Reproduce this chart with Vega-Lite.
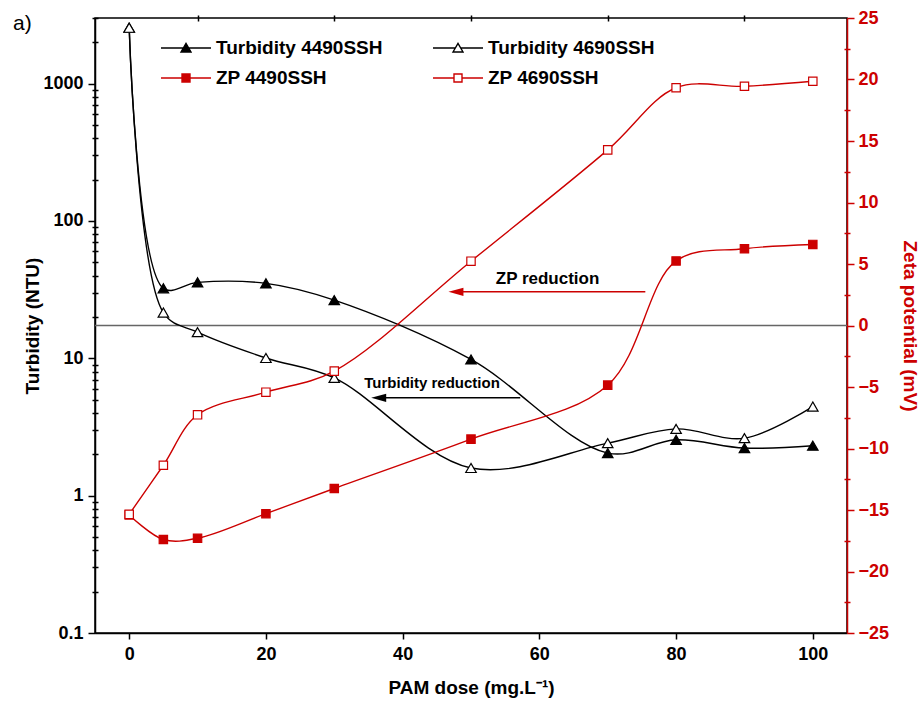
{
  "$schema": "https://vega.github.io/schema/vega-lite/v6.json",
  "width": 752,
  "height": 615,
  "autosize": "none",
  "padding": {"left": 95, "top": 18, "right": 74, "bottom": 71},
  "background": "white",
  "title": {
    "text": "a)", "anchor": "start", "frame": "group", "orient": "top",
    "dx": -82, "dy": 42, "offset": 0, "baseline": "alphabetic",
    "font": "Liberation Sans", "fontSize": 21, "fontWeight": "normal", "color": "black"
  },
  "config": {
    "font": "Liberation Sans",
    "view": {"stroke": "black", "strokeWidth": 1.5},
    "axis": {
      "grid": false,
      "labelFont": "Liberation Sans", "labelFontWeight": "bold", "labelFontSize": 18, "labelColor": "black",
      "titleFont": "Liberation Sans", "titleFontWeight": "bold", "titleFontSize": 19, "titleColor": "black",
      "domainColor": "black", "domainWidth": 1.5, "tickColor": "black", "tickWidth": 1.5
    }
  },
  "datasets": {
    "measurements": [
      {"dose": 0, "series": "Turbidity 4490SSH", "measure": "turbidity", "value": 2550},
      {"dose": 5, "series": "Turbidity 4490SSH", "measure": "turbidity", "value": 32.3},
      {"dose": 10, "series": "Turbidity 4490SSH", "measure": "turbidity", "value": 35.7},
      {"dose": 20, "series": "Turbidity 4490SSH", "measure": "turbidity", "value": 35.1},
      {"dose": 30, "series": "Turbidity 4490SSH", "measure": "turbidity", "value": 26.5},
      {"dose": 50, "series": "Turbidity 4490SSH", "measure": "turbidity", "value": 9.8},
      {"dose": 70, "series": "Turbidity 4490SSH", "measure": "turbidity", "value": 2.04},
      {"dose": 80, "series": "Turbidity 4490SSH", "measure": "turbidity", "value": 2.55},
      {"dose": 90, "series": "Turbidity 4490SSH", "measure": "turbidity", "value": 2.22},
      {"dose": 100, "series": "Turbidity 4490SSH", "measure": "turbidity", "value": 2.31},
      {"dose": 0, "series": "Turbidity 4690SSH", "measure": "turbidity", "value": 2550},
      {"dose": 5, "series": "Turbidity 4690SSH", "measure": "turbidity", "value": 21.5},
      {"dose": 10, "series": "Turbidity 4690SSH", "measure": "turbidity", "value": 15.5},
      {"dose": 20, "series": "Turbidity 4690SSH", "measure": "turbidity", "value": 10.05},
      {"dose": 30, "series": "Turbidity 4690SSH", "measure": "turbidity", "value": 7.2},
      {"dose": 50, "series": "Turbidity 4690SSH", "measure": "turbidity", "value": 1.59},
      {"dose": 70, "series": "Turbidity 4690SSH", "measure": "turbidity", "value": 2.41},
      {"dose": 80, "series": "Turbidity 4690SSH", "measure": "turbidity", "value": 3.06},
      {"dose": 90, "series": "Turbidity 4690SSH", "measure": "turbidity", "value": 2.62},
      {"dose": 100, "series": "Turbidity 4690SSH", "measure": "turbidity", "value": 4.45},
      {"dose": 0, "series": "ZP 4490SSH", "measure": "zp", "value": -15.4},
      {"dose": 5, "series": "ZP 4490SSH", "measure": "zp", "value": -17.4},
      {"dose": 10, "series": "ZP 4490SSH", "measure": "zp", "value": -17.3},
      {"dose": 20, "series": "ZP 4490SSH", "measure": "zp", "value": -15.3},
      {"dose": 30, "series": "ZP 4490SSH", "measure": "zp", "value": -13.25},
      {"dose": 50, "series": "ZP 4490SSH", "measure": "zp", "value": -9.24},
      {"dose": 70, "series": "ZP 4490SSH", "measure": "zp", "value": -4.85},
      {"dose": 80, "series": "ZP 4490SSH", "measure": "zp", "value": 5.25},
      {"dose": 90, "series": "ZP 4490SSH", "measure": "zp", "value": 6.24},
      {"dose": 100, "series": "ZP 4490SSH", "measure": "zp", "value": 6.59},
      {"dose": 0, "series": "ZP 4690SSH", "measure": "zp", "value": -15.35},
      {"dose": 5, "series": "ZP 4690SSH", "measure": "zp", "value": -11.36},
      {"dose": 10, "series": "ZP 4690SSH", "measure": "zp", "value": -7.26},
      {"dose": 20, "series": "ZP 4690SSH", "measure": "zp", "value": -5.42},
      {"dose": 30, "series": "ZP 4690SSH", "measure": "zp", "value": -3.71},
      {"dose": 50, "series": "ZP 4690SSH", "measure": "zp", "value": 5.23},
      {"dose": 70, "series": "ZP 4690SSH", "measure": "zp", "value": 14.28},
      {"dose": 80, "series": "ZP 4690SSH", "measure": "zp", "value": 19.33},
      {"dose": 90, "series": "ZP 4690SSH", "measure": "zp", "value": 19.45},
      {"dose": 100, "series": "ZP 4690SSH", "measure": "zp", "value": 19.86}
    ]
  },
  "data": {"name": "measurements"},
  "layer": [
    {
      "data": {"values": [{}]},
      "mark": {"type": "rule", "color": "#666666", "strokeWidth": 1.4},
      "encoding": {
        "y": {"datum": 0, "type": "quantitative", "scale": {"domain": [-25, 25], "nice": false, "zero": false}, "axis": null}
      }
    },
    {
      "transform": [{"filter": "datum.measure === 'turbidity'"}],
      "mark": {"type": "line", "interpolate": "catmull-rom", "strokeWidth": 1.4},
      "encoding": {
        "x": {
          "field": "dose", "type": "quantitative",
          "scale": {"domain": [-5, 105], "nice": false, "zero": false},
          "axis": {"title": "PAM dose (mg.L⁻¹)", "values": [0, 20, 40, 60, 80, 100], "tickSize": 6, "labelPadding": 6, "titlePadding": 15}
        },
        "y": {
          "field": "value", "type": "quantitative",
          "scale": {"type": "log", "domain": [0.1, 3000], "nice": false},
          "axis": {"title": "Turbidity (NTU)", "orient": "left", "values": [0.1, 1, 10, 100, 1000], "format": "~g", "tickSize": 7, "labelPadding": 5, "titlePadding": 0}
        },
        "color": {
          "field": "series", "type": "nominal",
          "scale": {"domain": ["Turbidity 4490SSH", "Turbidity 4690SSH", "ZP 4490SSH", "ZP 4690SSH"], "range": ["black", "black", "#cc0000", "#cc0000"]},
          "legend": {
            "title": null, "orient": "none", "legendX": 65, "legendY": 15, "columns": 2, "direction": "horizontal",
            "columnPadding": 49, "rowPadding": 0, "padding": 0, "clipHeight": 30,
            "labelFont": "Liberation Sans", "labelFontSize": 19, "labelFontWeight": "bold", "labelColor": "black",
            "labelOffset": 4, "labelLimit": 0, "symbolSize": 2500,
            "encode": {
              "symbols": {
                "update": {
                  "shape": {"signal": "indexof(datum.value, 'Turbidity') === 0 ? 'M-1,0H-0.12M0.12,0H1M-0.2,0.16L0,-0.18L0.2,0.16Z' : 'M-1,0H-0.16M0.16,0H1M-0.16,-0.16H0.16V0.16H-0.16Z'"},
                  "fill": {"signal": "datum.value === 'Turbidity 4490SSH' ? 'black' : datum.value === 'ZP 4490SSH' ? '#cc0000' : 'white'"},
                  "stroke": {"signal": "indexof(datum.value, 'Turbidity') === 0 ? 'black' : '#cc0000'"},
                  "strokeWidth": {"value": 1.4},
                  "size": {"value": 2500},
                  "opacity": {"value": 1}
                }
              }
            }
          }
        }
      }
    },
    {
      "transform": [{"filter": "datum.measure === 'turbidity'"}],
      "mark": {"type": "point", "shape": "triangle-up", "size": 110, "strokeWidth": 1.2, "opacity": 1},
      "encoding": {
        "x": {
          "field": "dose", "type": "quantitative",
          "scale": {"domain": [-5, 105], "nice": false, "zero": false},
          "axis": {"values": [10, 30, 50, 70, 90], "labels": false, "domain": false, "tickSize": 6, "offset": -3, "title": null}
        },
        "y": {
          "field": "value", "type": "quantitative",
          "scale": {"type": "log", "domain": [0.1, 3000], "nice": false},
          "axis": {"orient": "left", "values": [0.2, 0.3, 0.4, 0.5, 0.6, 0.7, 0.8, 0.9, 2, 3, 4, 5, 6, 7, 8, 9, 20, 30, 40, 50, 60, 70, 80, 90, 200, 300, 400, 500, 600, 700, 800, 900, 2000, 3000], "labels": false, "domain": false, "tickSize": 6, "offset": -3, "title": null}
        },
        "stroke": {"field": "series", "type": "nominal", "scale": {"domain": ["Turbidity 4490SSH", "Turbidity 4690SSH", "ZP 4490SSH", "ZP 4690SSH"], "range": ["black", "black", "#cc0000", "#cc0000"]}, "legend": null},
        "fill": {"field": "series", "type": "nominal", "scale": {"domain": ["Turbidity 4490SSH", "Turbidity 4690SSH", "ZP 4490SSH", "ZP 4690SSH"], "range": ["black", "white", "#cc0000", "white"]}, "legend": null}
      }
    },
    {
      "transform": [{"filter": "datum.measure === 'zp'"}],
      "mark": {"type": "line", "interpolate": "catmull-rom", "strokeWidth": 1.4},
      "encoding": {
        "x": {"field": "dose", "type": "quantitative", "scale": {"domain": [-5, 105], "nice": false, "zero": false}, "axis": null},
        "y": {
          "field": "value", "type": "quantitative",
          "scale": {"domain": [-25, 25], "nice": false, "zero": false},
          "axis": {
            "title": "Zeta potential (mV)", "orient": "right", "values": [-25, -20, -15, -10, -5, 0, 5, 10, 15, 20, 25],
            "tickSize": 7, "labelPadding": 4, "titlePadding": 11,
            "labelColor": "#cc0000", "titleColor": "#cc0000", "tickColor": "#cc0000", "domainColor": "#cc0000"
          }
        },
        "color": {"field": "series", "type": "nominal"}
      }
    },
    {
      "transform": [{"filter": "datum.measure === 'zp'"}],
      "mark": {"type": "point", "shape": "square", "size": 70, "strokeWidth": 1.2, "opacity": 1},
      "encoding": {
        "x": {"field": "dose", "type": "quantitative", "scale": {"domain": [-5, 105], "nice": false, "zero": false}, "axis": null},
        "y": {
          "field": "value", "type": "quantitative",
          "scale": {"domain": [-25, 25], "nice": false, "zero": false},
          "axis": {"orient": "right", "values": [-22.5, -17.5, -12.5, -7.5, -2.5, 2.5, 7.5, 12.5, 17.5, 22.5], "labels": false, "domain": false, "tickSize": 6, "offset": -3, "title": null, "tickColor": "#cc0000"}
        },
        "stroke": {"field": "series", "type": "nominal", "legend": null},
        "fill": {"field": "series", "type": "nominal", "legend": null}
      }
    },
    {
      "data": {"values": [{}]},
      "mark": {"type": "rule", "color": "#cc0000", "strokeWidth": 1.4},
      "encoding": {
        "x": {"datum": 75.5, "type": "quantitative", "axis": null},
        "x2": {"datum": 47.8},
        "y": {"datum": 2.74, "type": "quantitative", "scale": {"domain": [-25, 25], "nice": false, "zero": false}, "axis": null}
      }
    },
    {
      "data": {"values": [{}]},
      "mark": {"type": "point", "shape": "M-1,0L1,-0.55L1,0.55Z", "size": 225, "filled": true, "color": "#cc0000", "opacity": 1},
      "encoding": {
        "x": {"datum": 47.8, "type": "quantitative", "axis": null},
        "y": {"datum": 2.74, "type": "quantitative", "scale": {"domain": [-25, 25], "nice": false, "zero": false}, "axis": null}
      }
    },
    {
      "data": {"values": [{}]},
      "mark": {"type": "text", "text": "ZP reduction", "font": "Liberation Sans", "fontSize": 17, "fontWeight": "bold", "color": "black", "align": "center", "baseline": "alphabetic"},
      "encoding": {
        "x": {"datum": 61.2, "type": "quantitative", "axis": null},
        "y": {"datum": 3.41, "type": "quantitative", "scale": {"domain": [-25, 25], "nice": false, "zero": false}, "axis": null}
      }
    },
    {
      "data": {"values": [{}]},
      "mark": {"type": "rule", "color": "black", "strokeWidth": 1.4},
      "encoding": {
        "x": {"datum": 57.2, "type": "quantitative", "axis": null},
        "x2": {"datum": 36.5},
        "y": {"datum": -5.88, "type": "quantitative", "scale": {"domain": [-25, 25], "nice": false, "zero": false}, "axis": null}
      }
    },
    {
      "data": {"values": [{}]},
      "mark": {"type": "point", "shape": "M-1,0L1,-0.55L1,0.55Z", "size": 225, "filled": true, "color": "black", "opacity": 1},
      "encoding": {
        "x": {"datum": 36.5, "type": "quantitative", "axis": null},
        "y": {"datum": -5.88, "type": "quantitative", "scale": {"domain": [-25, 25], "nice": false, "zero": false}, "axis": null}
      }
    },
    {
      "data": {"values": [{}]},
      "mark": {"type": "text", "text": "Turbidity reduction", "font": "Liberation Sans", "fontSize": 15, "fontWeight": "bold", "color": "black", "align": "center", "baseline": "alphabetic"},
      "encoding": {
        "x": {"datum": 44.3, "type": "quantitative", "axis": null},
        "y": {"datum": -5.12, "type": "quantitative", "scale": {"domain": [-25, 25], "nice": false, "zero": false}, "axis": null}
      }
    }
  ],
  "resolve": {"scale": {"y": "independent"}, "axis": {"x": "independent", "y": "independent"}}
}
